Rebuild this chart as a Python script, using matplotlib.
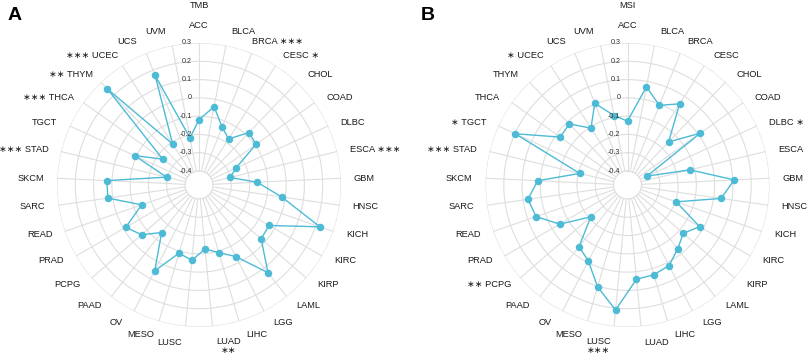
import numpy as np
import matplotlib
matplotlib.use("Agg")
import matplotlib.pyplot as plt
from matplotlib.transforms import ScaledTranslation

plt.rcParams['font.family'] = ['Liberation Sans', 'DejaVu Sans']

cancers = ['ACC', 'BLCA', 'BRCA', 'CESC', 'CHOL', 'COAD', 'DLBC', 'ESCA', 'GBM', 'HNSC',
           'KICH', 'KIRC', 'KIRP', 'LAML', 'LGG', 'LIHC', 'LUAD', 'LUSC', 'MESO', 'OV',
           'PAAD', 'PCPG', 'PRAD', 'READ', 'SARC', 'SKCM', 'STAD', 'TGCT', 'THCA', 'THYM',
           'UCEC', 'UCS', 'UVM']

tmb = [-0.120, -0.040, -0.136, -0.177, -0.080, -0.094, -0.255, -0.302, -0.158, -0.020,
       0.223, -0.034, -0.027, 0.134, -0.036, -0.091, -0.125, -0.063, -0.088, 0.052,
       -0.146, -0.061, -0.014, -0.145, 0.027, 0.028, -0.294, -0.090, -0.233, 0.249,
       -0.210, 0.171, -0.214]

msi = [-0.127, 0.070, -0.007, 0.051, -0.151, 0.012, -0.360, -0.125, 0.108, 0.040,
       -0.195, -0.021, -0.073, -0.032, 0.019, 0.035, 0.041, 0.210, 0.104, -0.009,
       -0.048, -0.211, -0.048, 0.052, 0.074, 0.015, -0.208, 0.198, -0.025, -0.015,
       -0.107, 0.005, -0.090]

tmb_sig = {'BRCA': '***', 'CESC': '*', 'ESCA': '***', 'LUAD': '**', 'STAD': '***',
           'THCA': '***', 'THYM': '**', 'UCEC': '***'}
msi_sig = {'DLBC': '*', 'LUSC': '***', 'PCPG': '**', 'STAD': '***', 'TGCT': '*',
           'UCEC': '*'}

r_ticks = [-0.4, -0.3, -0.2, -0.1, 0, 0.1, 0.2, 0.3]
r_tick_labels = ['-0.4', '-0.3', '-0.2', '-0.1', '0', '0.1', '0.2', '0.3']

panels = [('A', 'TMB', tmb, tmb_sig), ('B', 'MSI', msi, msi_sig)]

W, H = 809, 355
DPI = 100
fig = plt.figure(figsize=(W / DPI, H / DPI), dpi=DPI)

LINE_COLOR = '#4DBBD5'
GRID_COLOR = '#DEDEDE'
RMAX = 0.3
PX_PER_UNIT = 183.0
RMIN = -0.4 - 14 / PX_PER_UNIT
R_LAB = RMAX + 13 / PX_PER_UNIT
OUTER_PX = 142
centers = [(199, 185), (627.5, 185)]

n = len(cancers)
theta = np.arange(n) * 2 * np.pi / n

label_items = []

for (letter, title, vals, sig), (cx, cy) in zip(panels, centers):
    ax = fig.add_axes([(cx - OUTER_PX) / W, (H - cy - OUTER_PX) / H,
                       2 * OUTER_PX / W, 2 * OUTER_PX / H], projection='polar')
    ax.set_theta_zero_location('N')
    ax.set_theta_direction(-1)
    ax.set_ylim(RMIN, RMAX)
    ax.axis('off')

    # grid circles
    tt = np.linspace(0, 2 * np.pi, 400)
    for lv in r_ticks:
        ax.plot(tt, np.full_like(tt, lv), color=GRID_COLOR, lw=0.8, zorder=1)
    # spokes
    for th in theta:
        ax.plot([th, th], [r_ticks[0], RMAX], color=GRID_COLOR, lw=0.8, zorder=1)

    # data
    th_c = np.append(theta, theta[0])
    v_c = np.append(vals, vals[0])
    ax.plot(th_c, v_c, color=LINE_COLOR, lw=1.0, zorder=3)
    ax.plot(theta, vals, 'o', color=LINE_COLOR, ms=5.4, zorder=4, mec='none')

    # radial tick labels
    off = ScaledTranslation(-7 / DPI, 0, fig.dpi_scale_trans)
    for lv, lab in zip(r_ticks, r_tick_labels):
        ax.text(0, lv, lab, ha='right', va='center', fontsize=5.2, color='#333333',
                transform=ax.transData + off, zorder=5, clip_on=False)

    # category labels
    for i, name in enumerate(cancers):
        if i == 0:
            phi = 0.0
        elif i <= n // 2:
            phi = 5.1 + 10.3 * i
        else:
            phi = -(5.1 + 10.3 * (n - i))
        st = sig.get(name, '').replace('*', '\u2217')
        if st:
            if abs(abs(phi) - 180) < 15:
                txt = name + '\n' + st
            elif phi > 0:
                txt = name + ' ' + st
            else:
                txt = st + ' ' + name
        else:
            txt = name
        ph = np.deg2rad(phi)
        t = ax.text(ph, R_LAB, txt, ha='center', va='center', fontsize=6.7,
                    color='#1a1a1a', clip_on=False, linespacing=1.0)
        label_items.append((ax, t, ph))

    # title
    fig.text(cx / W, 1 - 5.5 / H, title, ha='center', va='center', fontsize=6.7,
             color='#1a1a1a')

fig.text(15 / W, 1 - 15.5 / H, 'A', ha='center', va='center', fontsize=14,
         fontweight='bold')
fig.text(428 / W, 1 - 15 / H, 'B', ha='center', va='center', fontsize=14,
         fontweight='bold')

# continuous hjust/vjust like ggplot polar labels
fig.canvas.draw()
renderer = fig.canvas.get_renderer()
for ax, t, ph in label_items:
    bb = t.get_window_extent(renderer)
    dx = np.sin(ph) * bb.width / 2
    dy = np.cos(ph) * bb.height / 2
    t.set_transform(ax.transData + ScaledTranslation(dx / DPI, dy / DPI, fig.dpi_scale_trans))

fig.savefig('out.png', dpi=DPI)
